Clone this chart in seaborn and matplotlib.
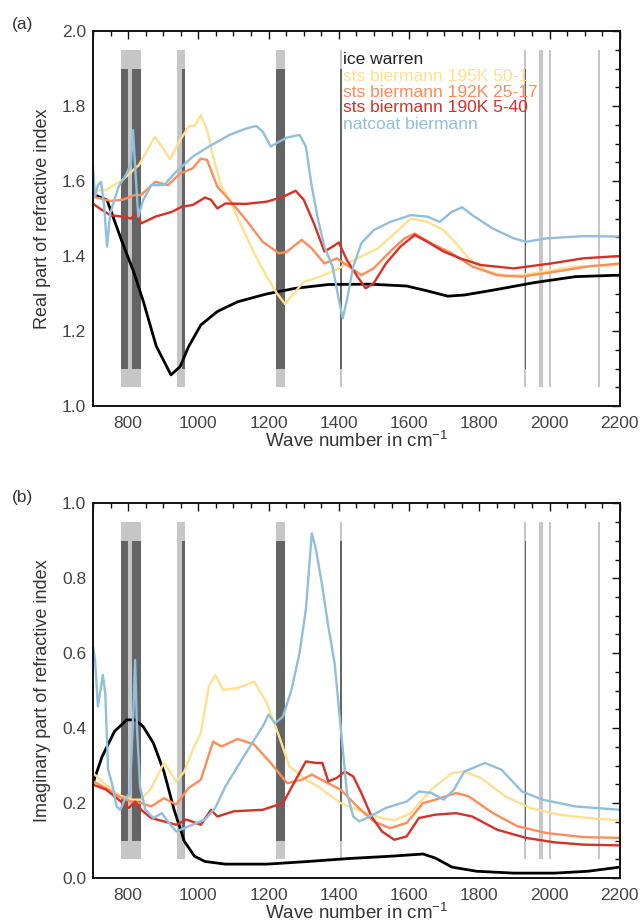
import matplotlib
matplotlib.use("Agg")
import matplotlib.pyplot as plt
from matplotlib.ticker import MultipleLocator
import pandas as pd
import seaborn as sns

# ---- datos ----
# (a) parte real
ice_re_wn = [700, 740, 782, 815, 843, 880, 922, 948, 972, 1007, 1054, 1112, 1195, 1277, 1370, 1488, 1593, 1652, 1710, 1757, 1839, 1956, 2073, 2200]
ice_re = [1.565, 1.549, 1.44, 1.36, 1.28, 1.16, 1.083, 1.105, 1.158, 1.216, 1.252, 1.278, 1.299, 1.314, 1.324, 1.325, 1.32, 1.307, 1.293, 1.296, 1.309, 1.329, 1.345, 1.349]

s195_re_wn = [700, 737, 784, 831, 876, 896, 919, 948, 974, 989, 1007, 1025, 1042, 1066, 1089, 1124, 1159, 1195, 1224, 1247, 1271, 1300, 1347, 1394, 1441, 1511, 1558, 1605, 1652, 1698, 1734, 1769, 1816, 1874, 1956, 2073, 2200]
s195_re = [1.575, 1.576, 1.603, 1.643, 1.718, 1.692, 1.658, 1.709, 1.747, 1.747, 1.776, 1.736, 1.665, 1.585, 1.549, 1.478, 1.407, 1.345, 1.30, 1.272, 1.30, 1.331, 1.345, 1.364, 1.389, 1.42, 1.46, 1.50, 1.491, 1.469, 1.434, 1.394, 1.363, 1.345, 1.354, 1.372, 1.376]

s192_re_wn = [700, 749, 784, 820, 837, 878, 913, 948, 984, 1007, 1025, 1054, 1089, 1136, 1183, 1230, 1253, 1294, 1323, 1359, 1394, 1429, 1464, 1499, 1546, 1587, 1616, 1663, 1722, 1780, 1850, 1921, 2015, 2109, 2200]
s192_re = [1.558, 1.547, 1.55, 1.563, 1.563, 1.598, 1.589, 1.62, 1.634, 1.66, 1.656, 1.585, 1.549, 1.496, 1.438, 1.407, 1.412, 1.443, 1.42, 1.38, 1.394, 1.372, 1.349, 1.367, 1.412, 1.447, 1.46, 1.434, 1.407, 1.372, 1.349, 1.345, 1.358, 1.372, 1.38]

s190_re_wn = [700, 714, 749, 784, 808, 825, 837, 878, 925, 954, 984, 1019, 1036, 1054, 1077, 1136, 1195, 1241, 1277, 1300, 1329, 1359, 1382, 1400, 1423, 1453, 1476, 1499, 1534, 1575, 1616, 1652, 1698, 1745, 1804, 1898, 2003, 2097, 2200]
s190_re = [1.54, 1.53, 1.509, 1.505, 1.5, 1.514, 1.487, 1.505, 1.518, 1.532, 1.536, 1.556, 1.55, 1.527, 1.54, 1.539, 1.545, 1.558, 1.574, 1.55, 1.487, 1.412, 1.425, 1.436, 1.389, 1.345, 1.314, 1.327, 1.38, 1.425, 1.456, 1.438, 1.412, 1.394, 1.376, 1.367, 1.38, 1.394, 1.40]

nat_re_wn = [700, 706, 714, 723, 732, 740, 749, 773, 796, 808, 814, 820, 829, 843, 866, 902, 937, 984, 1030, 1089, 1136, 1165, 1183, 1206, 1230, 1253, 1288, 1306, 1323, 1341, 1359, 1382, 1400, 1411, 1423, 1441, 1464, 1499, 1546, 1605, 1652, 1687, 1722, 1751, 1780, 1839, 1898, 1933, 1991, 2097, 2200]
nat_re = [1.638, 1.558, 1.589, 1.598, 1.531, 1.425, 1.514, 1.585, 1.62, 1.647, 1.736, 1.638, 1.505, 1.549, 1.589, 1.589, 1.625, 1.665, 1.692, 1.723, 1.74, 1.747, 1.732, 1.692, 1.705, 1.716, 1.723, 1.692, 1.585, 1.496, 1.425, 1.372, 1.283, 1.234, 1.283, 1.372, 1.434, 1.469, 1.491, 1.509, 1.505, 1.491, 1.518, 1.53, 1.509, 1.473, 1.447, 1.438, 1.447, 1.453, 1.452]

# (b) parte imaginaria
ice_im_wn = [700, 726, 761, 796, 820, 843, 872, 902, 931, 960, 989, 1019, 1077, 1195, 1312, 1429, 1546, 1640, 1675, 1722, 1792, 1898, 2015, 2109, 2200]
ice_im = [0.253, 0.324, 0.391, 0.422, 0.422, 0.404, 0.36, 0.284, 0.182, 0.098, 0.058, 0.044, 0.037, 0.037, 0.044, 0.052, 0.058, 0.064, 0.053, 0.029, 0.018, 0.013, 0.013, 0.018, 0.029]

s195_im_wn = [700, 737, 773, 808, 837, 866, 902, 919, 937, 960, 984, 1007, 1030, 1048, 1071, 1112, 1159, 1195, 1230, 1259, 1300, 1347, 1405, 1464, 1522, 1558, 1605, 1663, 1722, 1757, 1804, 1874, 1944, 2027, 2109, 2200]
s195_im = [0.28, 0.249, 0.222, 0.209, 0.209, 0.24, 0.307, 0.284, 0.258, 0.284, 0.342, 0.387, 0.511, 0.542, 0.502, 0.507, 0.524, 0.467, 0.378, 0.298, 0.267, 0.24, 0.2, 0.178, 0.16, 0.154, 0.173, 0.236, 0.28, 0.284, 0.267, 0.218, 0.187, 0.169, 0.16, 0.154]

s192_im_wn = [700, 737, 773, 808, 837, 866, 902, 937, 972, 1007, 1042, 1066, 1112, 1159, 1206, 1253, 1294, 1323, 1359, 1405, 1452, 1499, 1546, 1593, 1640, 1675, 1734, 1769, 1839, 1909, 1991, 2097, 2200]
s192_im = [0.258, 0.24, 0.218, 0.204, 0.2, 0.191, 0.213, 0.196, 0.24, 0.262, 0.364, 0.351, 0.371, 0.356, 0.307, 0.253, 0.262, 0.276, 0.258, 0.236, 0.191, 0.151, 0.133, 0.147, 0.2, 0.209, 0.227, 0.218, 0.173, 0.138, 0.12, 0.109, 0.107]

s190_im_wn = [700, 737, 773, 802, 820, 837, 866, 902, 937, 966, 1007, 1036, 1054, 1101, 1183, 1241, 1277, 1306, 1335, 1353, 1370, 1394, 1417, 1441, 1464, 1493, 1523, 1558, 1593, 1628, 1675, 1734, 1780, 1850, 1933, 2015, 2097, 2200]
s190_im = [0.249, 0.236, 0.209, 0.187, 0.204, 0.182, 0.16, 0.151, 0.142, 0.156, 0.142, 0.182, 0.164, 0.178, 0.182, 0.2, 0.262, 0.311, 0.307, 0.307, 0.258, 0.267, 0.284, 0.271, 0.227, 0.164, 0.124, 0.102, 0.111, 0.16, 0.169, 0.173, 0.164, 0.129, 0.107, 0.095, 0.089, 0.087]

nat_im_wn = [700, 706, 714, 720, 728, 735, 743, 755, 767, 778, 790, 805, 814, 820, 825, 834, 849, 872, 896, 913, 937, 972, 1019, 1048, 1077, 1112, 1153, 1183, 1200, 1218, 1241, 1265, 1288, 1306, 1323, 1335, 1353, 1370, 1388, 1405, 1423, 1441, 1458, 1488, 1534, 1593, 1628, 1663, 1698, 1728, 1757, 1816, 1863, 1921, 1980, 2073, 2200]
nat_im = [0.618, 0.582, 0.458, 0.493, 0.542, 0.493, 0.289, 0.249, 0.191, 0.182, 0.209, 0.227, 0.422, 0.582, 0.404, 0.244, 0.182, 0.16, 0.173, 0.151, 0.124, 0.138, 0.156, 0.187, 0.244, 0.298, 0.36, 0.404, 0.436, 0.413, 0.431, 0.502, 0.6, 0.716, 0.92, 0.876, 0.778, 0.671, 0.573, 0.404, 0.227, 0.164, 0.151, 0.164, 0.187, 0.204, 0.231, 0.227, 0.209, 0.236, 0.284, 0.307, 0.289, 0.231, 0.209, 0.191, 0.182]

nombres = ["ice warren", "sts biermann 195K 50-1", "sts biermann 192K 25-17",
           "sts biermann 190K 5-40", "natcoat biermann"]
colores = ["#000000", "#fee090", "#fc8d59", "#d73027", "#91bfdb"]

# bandas grises (cm-1)
bandas_claras = [(780, 838), (938, 963), (1222, 1248), (1403, 1410), (1928, 1934), (1970, 1982), (1997, 2004), (2138, 2143)]
bandas_oscuras = [(780, 800), (810, 838), (954, 963), (1222, 1248), (1404, 1409), (1929, 1933)]

real = [(ice_re_wn, ice_re), (s195_re_wn, s195_re), (s192_re_wn, s192_re), (s190_re_wn, s190_re), (nat_re_wn, nat_re)]
imag = [(ice_im_wn, ice_im), (s195_im_wn, s195_im), (s192_im_wn, s192_im), (s190_im_wn, s190_im), (nat_im_wn, nat_im)]

sns.set_style("white")
plt.rcParams['font.family'] = ['Liberation Sans', 'DejaVu Sans']
plt.rcParams['mathtext.default'] = 'regular'

fig = plt.figure(figsize=(6.43, 9.24), dpi=100)
ax_a = fig.add_axes([0.1446, 0.5606, 0.8194, 0.4058])
ax_b = fig.add_axes([0.1446, 0.0498, 0.8194, 0.4055])

def dibujar(ax, series, ylim, ylabel):
    for a, b in bandas_claras:
        ax.axvspan(a, b, ymin=0.05, ymax=0.95, color="#c6c6c6", lw=0, zorder=0)
    for a, b in bandas_oscuras:
        ax.axvspan(a, b, ymin=0.1, ymax=0.9, color="#646464", lw=0, zorder=0.5)
    for (x, y), nombre, c in zip(series, nombres, colores):
        df = pd.DataFrame({"wn": x, "n": y})
        lw = 2.0 if c == "#000000" else 1.7
        sns.lineplot(data=df, x="wn", y="n", color=c, lw=lw, ax=ax, zorder=2)
    ax.set_xlim(700, 2200)
    ax.set_ylim(*ylim)
    ax.xaxis.set_major_locator(MultipleLocator(200))
    ax.xaxis.set_minor_locator(MultipleLocator(50))
    ax.yaxis.set_major_locator(MultipleLocator(0.2))
    ax.yaxis.set_minor_locator(MultipleLocator(0.05))
    ax.tick_params(which="both", direction="in", top=True, right=True, width=1.0, color="#111111")
    ax.tick_params(which="major", length=6)
    ax.tick_params(which="minor", length=3.5)
    ax.tick_params(axis="x", labelsize=12.5, pad=7, labelcolor="#444444")
    ax.tick_params(axis="y", labelsize=12.5, pad=5, labelcolor="#444444")
    ax.yaxis.set_major_formatter(matplotlib.ticker.FormatStrFormatter("%.1f"))
    for s in ax.spines.values():
        s.set_linewidth(1.4)
        s.set_color("#111111")
    ax.set_xlabel(r"Wave number in cm$^{-1}$", fontsize=13.5, color="#333333", labelpad=0)
    ax.set_ylabel(ylabel, fontsize=13, color="#333333", labelpad=8)

dibujar(ax_a, real, (1.0, 2.0), "Real part of refractive index")
dibujar(ax_b, imag, (0.0, 1.0), "Imaginary part of refractive index")

# leyenda como texto de colores
ys_leyenda = [1.923, 1.880, 1.837, 1.795, 1.752]
for nombre, c, yl in zip(nombres, colores, ys_leyenda):
    col = "#222222" if c == "#000000" else c
    ax_a.text(1411, yl, nombre, color=col, fontsize=12.5, va="center", ha="left", zorder=3)

fig.text(0.019, 0.973, "(a)", fontsize=12.5, color="#333333", va="center")
fig.text(0.019, 0.462, "(b)", fontsize=12.5, color="#333333", va="center")

fig.savefig("out.png", dpi=100)
